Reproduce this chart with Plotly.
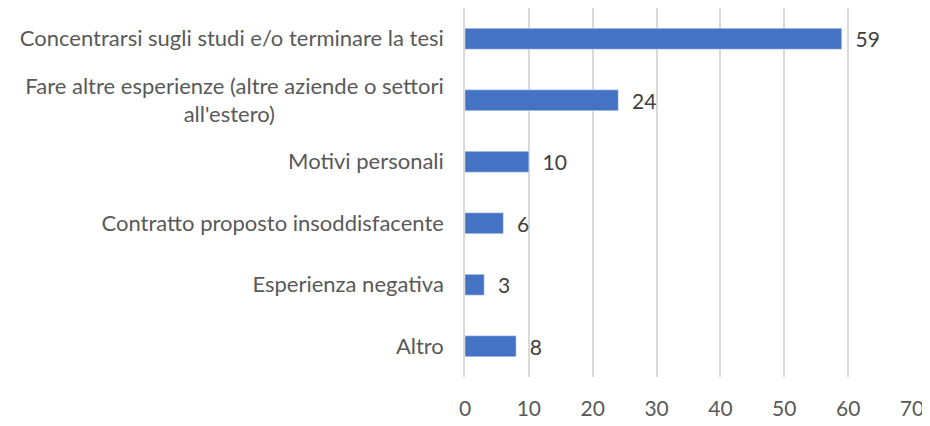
import plotly.graph_objects as go

# categorie (dall'alto verso il basso) e valori
categorie = [
    "Concentrarsi sugli studi e/o terminare la tesi",
    "Fare altre esperienze (altre aziende o settori<br>all'estero)" + "\u00a0" * 30,
    "Motivi personali",
    "Contratto proposto insoddisfacente",
    "Esperienza negativa",
    "Altro",
]
valori = [59, 24, 10, 6, 3, 8]
tick_x = [0, 10, 20, 30, 40, 50, 60, 70]

FONT = "Lato"

fig = go.Figure()
fig.add_trace(go.Bar(
    x=valori,
    y=categorie,
    orientation="h",
    marker=dict(color="#4472C4"),
    text=valori,
    texttemplate="\u00a0\u00a0%{text}",
    textposition="outside",
    constraintext="none",
    textfont=dict(family=FONT, size=21, color="#404040"),
    cliponaxis=False,
    hoverinfo="x+y",
))

# la pagina html aggiunge 8px di margine al body: dimensioni ridotte di conseguenza
fig.update_layout(
    width=922,
    height=418,
    margin=dict(l=457, r=18, t=0, b=49),
    paper_bgcolor="white",
    plot_bgcolor="white",
    bargap=0.66,
    showlegend=False,
    font=dict(family=FONT, color="#595959"),
)
fig.update_xaxes(
    range=[0, 70],
    tickvals=tick_x,
    automargin=False,
    showgrid=True,
    gridcolor="#d9d9d9",
    gridwidth=1.5,
    zeroline=False,
    showline=False,
    ticks="",
    ticklabelstandoff=17,
    tickfont=dict(family=FONT, size=21, color="#595959"),
)
fig.update_yaxes(
    autorange="reversed",
    automargin=False,
    showline=True,
    linecolor="#d9d9d9",
    linewidth=1.5,
    ticks="",
    ticklabelstandoff=15,
    tickfont=dict(family=FONT, size=22, color="#595959"),
)

fig.write_html("out.html")
